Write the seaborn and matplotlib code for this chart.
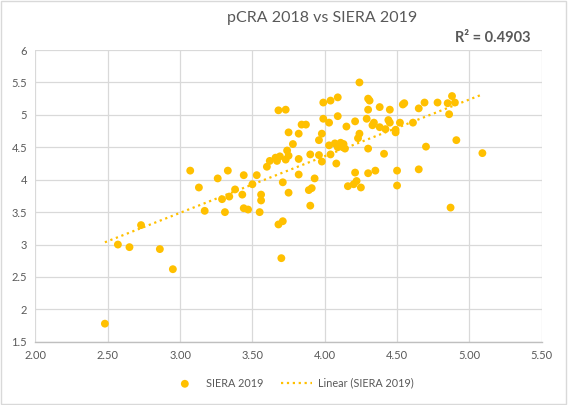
import numpy as np
import pandas as pd
import matplotlib
matplotlib.use("Agg")
import matplotlib.pyplot as plt
from matplotlib.patches import Rectangle
import seaborn as sns

# --- Data ---
pcra_2018 = [2.48, 2.57, 2.65, 2.73, 2.86, 2.95, 3.07, 3.13, 3.17, 3.26, 3.29, 3.31, 3.33, 3.34,
             3.38, 3.43, 3.44, 3.44, 3.47, 3.50, 3.53, 3.55, 3.56, 3.56, 3.68, 3.71, 3.70,
             3.60, 3.62, 3.66, 3.67, 3.69, 3.73, 3.74, 3.75, 3.82, 3.78, 3.75, 3.82, 3.68, 3.73,
             3.84, 3.87, 3.82, 3.71, 3.75, 3.89, 3.91, 3.90, 3.93, 3.90, 3.96, 3.98, 4.04, 4.08,
             3.96, 3.98, 3.99, 4.03, 4.09, 4.15, 3.99, 4.04, 4.09, 4.03, 4.07, 4.09, 4.11, 4.13,
             4.12, 4.14,
             4.16, 4.22, 4.20, 4.25, 4.21, 4.30, 4.35, 4.50, 4.65, 4.50, 4.41,
             4.30, 4.23, 4.24,
             4.21, 4.29, 4.33, 4.34, 4.38, 4.42, 4.44, 4.45, 4.49, 4.49, 4.52, 4.61, 4.70,
             4.24, 4.30, 4.31, 4.30, 4.38, 4.45, 4.54, 4.55, 4.65, 4.69, 4.78,
             4.85, 4.88, 4.90, 4.86, 4.91, 5.09, 4.87]

siera_2019 = [1.78, 3.00, 2.96, 3.30, 2.93, 2.62, 4.14, 3.88, 3.52, 4.02, 3.70, 3.50, 4.14, 3.74,
              3.85, 3.77, 4.07, 3.56, 3.54, 3.93, 4.07, 3.50, 3.77, 3.68, 3.31, 3.36, 2.79,
              4.20, 4.29, 4.34, 4.29, 4.36, 4.31, 4.45, 4.37, 4.32, 4.55, 4.73, 4.71, 5.07, 5.08,
              4.85, 4.85, 4.08, 3.96, 3.80, 3.84, 3.87, 3.60, 4.02, 4.39, 4.38, 4.28, 4.39, 4.25,
              4.61, 4.71, 4.94, 4.88, 4.98, 4.82, 5.19, 5.22, 5.27, 4.53, 4.56, 4.50, 4.57, 4.55,
              4.51, 4.48,
              3.90, 3.98, 3.93, 3.88, 4.11, 4.10, 4.14, 4.14, 4.16, 3.91, 4.40,
              4.48, 4.64, 4.71,
              4.90, 4.94, 4.84, 4.88, 4.81, 4.78, 4.92, 4.88, 4.77, 4.73, 4.88, 4.88, 4.51,
              5.50, 5.25, 5.22, 5.08, 5.12, 5.08, 5.16, 5.18, 5.10, 5.19, 5.19,
              5.18, 5.29, 5.19, 5.01, 4.61, 4.41, 3.57]

x_ticks = [2.0, 2.5, 3.0, 3.5, 4.0, 4.5, 5.0, 5.5]
y_ticks = [1.5, 2.0, 2.5, 3.0, 3.5, 4.0, 4.5, 5.0, 5.5, 6.0]
r2_label = "R² = 0.4903"

df = pd.DataFrame({"pCRA 2018": pcra_2018, "SIERA 2019": siera_2019})

# --- Style ---
sns.set_theme(style="whitegrid")
plt.rcParams["font.family"] = ["Lato", "DejaVu Sans"]
text_grey = "#595959"
gold = "#FFC000"

fig = plt.figure(figsize=(5.72, 4.05), dpi=100)
ax = fig.add_axes([0.062, 0.156, 0.885, 0.7205])

sns.scatterplot(data=df, x="pCRA 2018", y="SIERA 2019", ax=ax, color=gold,
                s=32, edgecolor="none", label="SIERA 2019", zorder=3)
# Excel-style linear trendline
sns.regplot(data=df, x="pCRA 2018", y="SIERA 2019", ax=ax, scatter=False, ci=None,
            color=gold, truncate=True, label="Linear (SIERA 2019)",
            line_kws={"linestyle": ":", "linewidth": 1.6})

ax.set_xlim(2.0, 5.5)
ax.set_ylim(1.5, 6.0)
ax.set_xticks(x_ticks)
ax.set_yticks(y_ticks)
ax.set_xticklabels([f"{v:.2f}" for v in x_ticks])
ax.set_yticklabels([f"{v:g}" for v in y_ticks])
ax.tick_params(length=0, labelsize=8, labelcolor=text_grey, pad=6)
ax.set_xlabel("")
ax.set_ylabel("")
ax.grid(True, color="#d9d9d9", linewidth=0.9)
for side in ["top", "right", "left"]:
    ax.spines[side].set_visible(False)
ax.spines["bottom"].set_color("#bfbfbf")
ax.spines["bottom"].set_linewidth(1.0)

handles, labels = ax.get_legend_handles_labels()
if ax.get_legend() is not None:
    ax.get_legend().remove()

fig.text(0.563, 0.955, "pCRA 2018 vs SIERA 2019", ha="center", va="center",
         fontsize=11.5, color=text_grey)
fig.text(0.927, 0.907, r2_label, ha="right", va="center", fontsize=10.5,
         fontweight="bold", color=text_grey)

fig.legend(handles, labels, loc="center", bbox_to_anchor=(0.51, 0.054), ncol=2,
           frameon=False, fontsize=7.8, labelcolor=text_grey, handlelength=2.8,
           handletextpad=0.6, columnspacing=1.6)

# chart area border
fig.patches.append(Rectangle((0.001, 0.002), 0.989, 0.996, transform=fig.transFigure,
                             fill=False, edgecolor="#d9d9d9", linewidth=1.0))

fig.savefig("out.png", dpi=100)
